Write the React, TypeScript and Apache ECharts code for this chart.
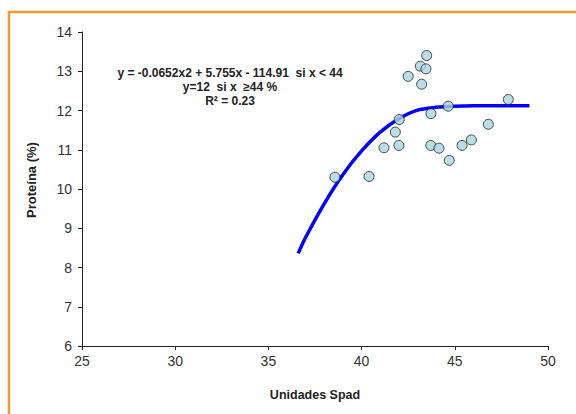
import React, { useEffect, useRef } from "react";
import * as echarts from "echarts";

const spadValues = [43.49, 43.15, 43.45, 42.5, 43.22, 47.87, 44.65, 43.72, 42.02, 46.8, 41.81, 41.2, 42.0, 43.71, 44.15, 45.39, 45.89, 44.7, 38.57, 40.4];
const proteinValues = [13.4, 13.13, 13.06, 12.87, 12.67, 12.28, 12.11, 11.92, 11.77, 11.65, 11.45, 11.05, 11.11, 11.11, 11.04, 11.11, 11.25, 10.73, 10.3, 10.32];

const curveX = [36.6, 37, 38, 39, 40, 41, 42, 43, 44, 45, 46, 47, 48, 49];
const curveY = [8.36, 8.77, 9.63, 10.37, 10.97, 11.45, 11.79, 12.01, 12.08, 12.11, 12.12, 12.12, 12.12, 12.12];

const annotationLines = [
  "y = -0.0652x2 + 5.755x - 114.91  si x < 44",
  "y=12  si x  ≥44 %",
  "R² = 0.23",
];

const xTitle = "Unidades Spad";
const yTitle = "Proteína (%)";

export default function App() {
  const ref = useRef<HTMLDivElement>(null);
  useEffect(() => {
    if (!ref.current) return;
    const chart = echarts.init(ref.current, null, { renderer: "svg" });
    const font = "Arial, 'Liberation Sans', sans-serif";
    chart.setOption({
      animation: false,
      backgroundColor: "#ffffff",
      grid: { left: 82, top: 32, right: 28, bottom: 68, containLabel: false },
      xAxis: {
        type: "value",
        min: 25,
        max: 50,
        interval: 5,
        name: xTitle,
        nameLocation: "middle",
        nameGap: 42,
        nameTextStyle: { fontFamily: font, fontSize: 12.5, fontWeight: "bold", color: "#222" },
        axisLine: { show: true, onZero: false, lineStyle: { color: "#222", width: 1 } },
        axisTick: { show: true, length: 4, lineStyle: { color: "#222" } },
        axisLabel: { fontFamily: font, fontSize: 14, color: "#333", margin: 8 },
        splitLine: { show: false },
      },
      yAxis: {
        type: "value",
        min: 6,
        max: 14,
        interval: 1,
        axisLine: { show: true, onZero: false, lineStyle: { color: "#222", width: 1 } },
        axisTick: { show: true, length: 4, lineStyle: { color: "#222" } },
        axisLabel: { fontFamily: font, fontSize: 14, color: "#333", margin: 10 },
        splitLine: { show: false },
      },
      series: [
        {
          type: "line",
          data: curveX.map((x, i) => [x, curveY[i]]),
          smooth: 0.3,
          showSymbol: false,
          symbol: "none",
          lineStyle: { color: "#0000ff", width: 3.5 },
          z: 2,
        },
        {
          type: "scatter",
          data: spadValues.map((x, i) => [x, proteinValues[i]]),
          symbol: "circle",
          symbolSize: 10,
          itemStyle: { color: "#a9d6e0", borderColor: "#222", borderWidth: 1 },
          z: 3,
        },
      ],
      graphic: [
        {
          type: "rect",
          shape: { x: 9, y: 12, width: 620, height: 460 },
          style: { fill: "none", stroke: "#f39a2b", lineWidth: 2.5 },
          silent: true,
        },
        {
          type: "text",
          x: 31,
          y: 180,
          rotation: Math.PI / 2,
          style: {
            text: yTitle,
            fontFamily: font,
            fontSize: 13,
            fontWeight: "bold",
            fill: "#222",
            align: "center",
            verticalAlign: "middle",
          },
        },
        ...annotationLines.map((t, i) => ({
          type: "text",
          x: 230,
          y: 73 + i * 14,
          style: {
            text: t,
            fontFamily: font,
            fontSize: 12,
            fontWeight: "bold",
            fill: "#222",
            align: "center",
            verticalAlign: "middle",
          },
        })),
      ],
    });
    return () => chart.dispose();
  }, []);
  return (
    <div
      ref={ref}
      style={{ position: "fixed", left: 0, top: 0, width: 576, height: 414 }}
    />
  );
}
